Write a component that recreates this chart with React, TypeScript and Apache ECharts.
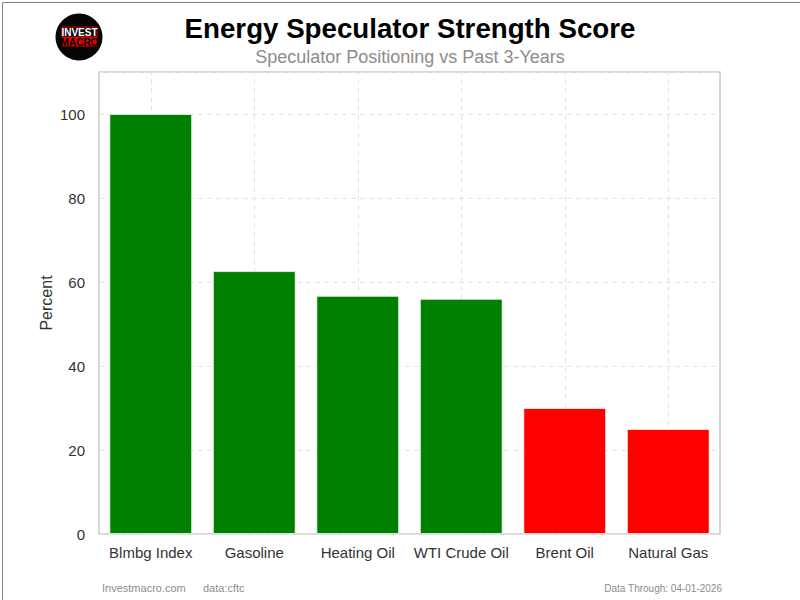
import React, { useEffect, useRef } from "react";
import * as echarts from "echarts";

const categories = ["Blmbg Index", "Gasoline", "Heating Oil", "WTI Crude Oil", "Brent Oil", "Natural Gas"];
const values = [100, 62.6, 56.7, 56.0, 30.0, 25.0];
const barColors = ["#008000", "#008000", "#008000", "#008000", "#ff0000", "#ff0000"];
const yTicks = { min: 0, max: 110, interval: 20 };

export default function App() {
  const ref = useRef<HTMLDivElement>(null);
  useEffect(() => {
    document.body.style.margin = "0";
    const chart = echarts.init(ref.current!, undefined, { renderer: "svg" });
    const font = "Liberation Sans, Arial, sans-serif";
    chart.setOption({
      animation: false,
      backgroundColor: "#ffffff",
      textStyle: { fontFamily: font },
      grid: { left: 99, right: 80, top: 72, bottom: 66, show: true, borderColor: "#cccccc", borderWidth: 1.5, backgroundColor: "transparent" },
      xAxis: {
        type: "category",
        data: categories,
        axisLine: { show: false },
        axisTick: { show: false },
        splitLine: { show: false },
        axisLabel: { color: "#333333", fontSize: 15, margin: 11, interval: 0, fontFamily: font },
      },
      yAxis: {
        type: "value",
        min: yTicks.min,
        max: yTicks.max,
        interval: yTicks.interval,
        name: "Percent",
        nameLocation: "middle",
        nameGap: 45,
        nameMoveOverlap: false,
        nameTextStyle: { color: "#333333", fontSize: 16, fontFamily: font },
        axisLine: { show: false },
        axisTick: { show: false },
        axisLabel: { color: "#333333", fontSize: 15, margin: 14, showMaxLabel: false, fontFamily: font, formatter: (v: number) => (v > 100 ? "" : String(v)) },
        splitLine: { show: true, lineStyle: { color: "#e4e4e4", type: [5, 4], width: 1 } },
      },
      series: [
        {
          type: "bar",
          data: values.map((v, i) => ({ value: v, itemStyle: { color: barColors[i] } })),
          barWidth: "80%",
          itemStyle: { borderColor: "rgba(255,255,255,0.7)", borderWidth: 1 },
          markLine: {
            silent: true,
            z: 1,
            symbol: "none",
            label: { show: false },
            lineStyle: { color: "#e4e4e4", type: [5, 4], width: 1 },
            data: categories.map((c) => ({ xAxis: c })),
          },
        },
      ],
      graphic: [
        { type: "rect", left: 0, top: 0, shape: { x: 0.5, y: 0.5, width: 799, height: 599 }, style: { fill: "none", stroke: "#808080", lineWidth: 1 }, silent: true },
        { type: "text", x: 410, y: 28, style: { text: "Energy Speculator Strength Score", fill: "#000000", font: `bold 27.7px ${font}`, textAlign: "center", textVerticalAlign: "middle" } },
        { type: "text", x: 410, y: 57, style: { text: "Speculator Positioning vs Past 3-Years", fill: "#8c8c8c", font: `18px ${font}`, textAlign: "center", textVerticalAlign: "middle" } },
        { type: "circle", shape: { cx: 79, cy: 37, r: 23.5 }, style: { fill: "#050505" } },
        { type: "rect", shape: { x: 62, y: 27, width: 35, height: 10 }, style: { fill: "none", stroke: "#e00000", lineWidth: 1 } },
        { type: "rect", shape: { x: 62, y: 37, width: 35, height: 9.5 }, style: { fill: "#e00000" } },
        { type: "text", x: 79.5, y: 32.3, style: { text: "INVEST", fill: "#ffffff", font: `bold 10px ${font}`, textAlign: "center", textVerticalAlign: "middle" } },
        { type: "text", x: 79.5, y: 42, style: { text: "MACRO", fill: "#000000", font: `bold 10px ${font}`, textAlign: "center", textVerticalAlign: "middle" } },
        { type: "text", x: 102, y: 588, style: { text: "Investmacro.com", fill: "#8c8c8c", font: `11px ${font}`, textAlign: "left", textVerticalAlign: "middle" } },
        { type: "text", x: 203, y: 588, style: { text: "data:cftc", fill: "#8c8c8c", font: `11px ${font}`, textAlign: "left", textVerticalAlign: "middle" } },
        { type: "text", x: 722, y: 588, style: { text: "Data Through: 04-01-2026", fill: "#8c8c8c", font: `10px ${font}`, textAlign: "right", textVerticalAlign: "middle" } },
      ],
    });
    return () => chart.dispose();
  }, []);
  return <div ref={ref} style={{ width: 800, height: 600 }} />;
}
